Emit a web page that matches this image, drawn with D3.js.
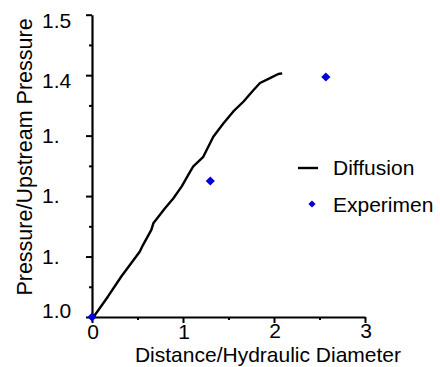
<!DOCTYPE html>
<html><head><meta charset="utf-8">
<script src="https://cdn.jsdelivr.net/npm/d3@7"></script>
<style>html,body{margin:0;padding:0;background:#fff;} svg{display:block;font-family:"Liberation Sans",Arial,sans-serif;}</style>
</head><body>
<svg id="c" width="440" height="367"></svg>
<script>
// ---- data ----
const diffusionX = [0, 0.03, 0.176, 0.322, 0.524, 0.56, 0.652, 0.674, 0.802, 0.893, 0.986, 1.077, 1.113, 1.223, 1.333, 1.443, 1.553, 1.663, 1.773, 1.846, 1.956, 2.047, 2.09];
const diffusionY = [1.000, 1.003, 1.034, 1.067, 1.108, 1.119, 1.144, 1.155, 1.180, 1.196, 1.216, 1.240, 1.249, 1.265, 1.298, 1.320, 1.340, 1.356, 1.375, 1.387, 1.395, 1.402, 1.403];
const experimentX = [0, 1.3, 2.57];
const experimentY = [1.0, 1.225, 1.397];
const xTickValues = [0, 1, 2, 3];
const xTickLabels = ["0", "1", "2", "3"];
const xMinorTicks = [0.5, 1.5, 2.5];
const yTickValues = [1.0, 1.1, 1.2, 1.3, 1.4, 1.5];
const yTickLabels = ["1.0", "1.", "1.", "1.", "1.4", "1.5"];
const yMinorTicks = [1.05, 1.15, 1.25, 1.35, 1.45];
const seriesNames = ["Diffusion", "Experimen"];
const xTitle = "Distance/Hydraulic Diameter";
const yTitle = "Pressure/Upstream Pressure";

// ---- layout ----
const svg = d3.select("#c");
const x = d3.scaleLinear().domain([0, 3]).range([92, 365]);
const y = d3.scaleLinear().domain([1.0, 1.5]).range([317, 14.7]);
const FS = 21;
const blue = "#0000d8";

// axes
const gx = svg.append("g").attr("transform", `translate(0,${y(1.0)})`);
gx.call(d3.axisBottom(x).tickValues(xTickValues).tickSize(6).tickSizeOuter(0).tickFormat(""));
gx.append("g").call(d3.axisBottom(x).tickValues(xMinorTicks).tickSize(3).tickSizeOuter(0).tickFormat(""))
  .select(".domain").remove();
const gy = svg.append("g").attr("transform", `translate(${x(0)},0)`);
gy.call(d3.axisLeft(y).tickValues(yTickValues).tickSize(6).tickSizeOuter(0).tickFormat(""));
gy.append("g").call(d3.axisLeft(y).tickValues(yMinorTicks).tickSize(3).tickSizeOuter(0).tickFormat(""))
  .select(".domain").remove();
svg.selectAll(".domain").attr("stroke", "#000").attr("stroke-width", 2.2);
svg.selectAll(".tick line").attr("stroke", "#000").attr("stroke-width", 2);

// x tick labels (staggered like the original)
svg.append("g").selectAll("text").data(xTickValues).join("text")
  .attr("x", d => x(d) + 1)
  .attr("y", d => y(1.0) + (d >= 2 ? 21 : 22))
  .attr("text-anchor", "middle").attr("font-size", FS).attr("fill", "#000")
  .text((d, i) => xTickLabels[i]);

// y tick labels
svg.append("g").selectAll("text").data(yTickValues).join("text")
  .attr("x", 42)
  .attr("y", d => y(d) + (d >= 1.4 ? 13 : (d <= 1.0 ? 1 : 7)))
  .attr("text-anchor", "start").attr("font-size", FS).attr("fill", "#000")
  .text((d, i) => yTickLabels[i]);

// titles
svg.append("text").attr("x", 268).attr("y", 362.3).attr("text-anchor", "middle")
  .attr("font-size", 21).attr("fill", "#000").text(xTitle);
svg.append("text").attr("transform", "translate(32,157) rotate(-90)").attr("text-anchor", "middle")
  .attr("font-size", 21.5).attr("fill", "#000").text(yTitle);

// diffusion line
const pts = diffusionX.map((d, i) => [d, diffusionY[i]]);
svg.append("path").datum(pts)
  .attr("d", d3.line().x(d => x(d[0])).y(d => y(d[1])))
  .attr("fill", "none").attr("stroke", "#000").attr("stroke-width", 2.4).attr("stroke-linejoin", "round");

// experiment markers
const diamond = d3.symbol().type(d3.symbolSquare).size(42);
svg.append("g").selectAll("path").data(experimentX).join("path")
  .attr("d", diamond)
  .attr("transform", (d, i) => `translate(${x(d)},${y(experimentY[i])}) rotate(45)`)
  .attr("fill", blue);

// legend
const lg = svg.append("g");
lg.append("line").attr("x1", 298).attr("x2", 318).attr("y1", 168).attr("y2", 168)
  .attr("stroke", "#000").attr("stroke-width", 2.4);
lg.append("text").attr("x", 333).attr("y", 175).attr("font-size", FS).attr("fill", "#000").text(seriesNames[0]);
lg.append("path").attr("d", d3.symbol().type(d3.symbolSquare).size(26))
  .attr("transform", "translate(312,204) rotate(45)").attr("fill", blue);
lg.append("text").attr("x", 333).attr("y", 212).attr("font-size", FS).attr("fill", "#000").text(seriesNames[1]);
</script>
</body></html>
